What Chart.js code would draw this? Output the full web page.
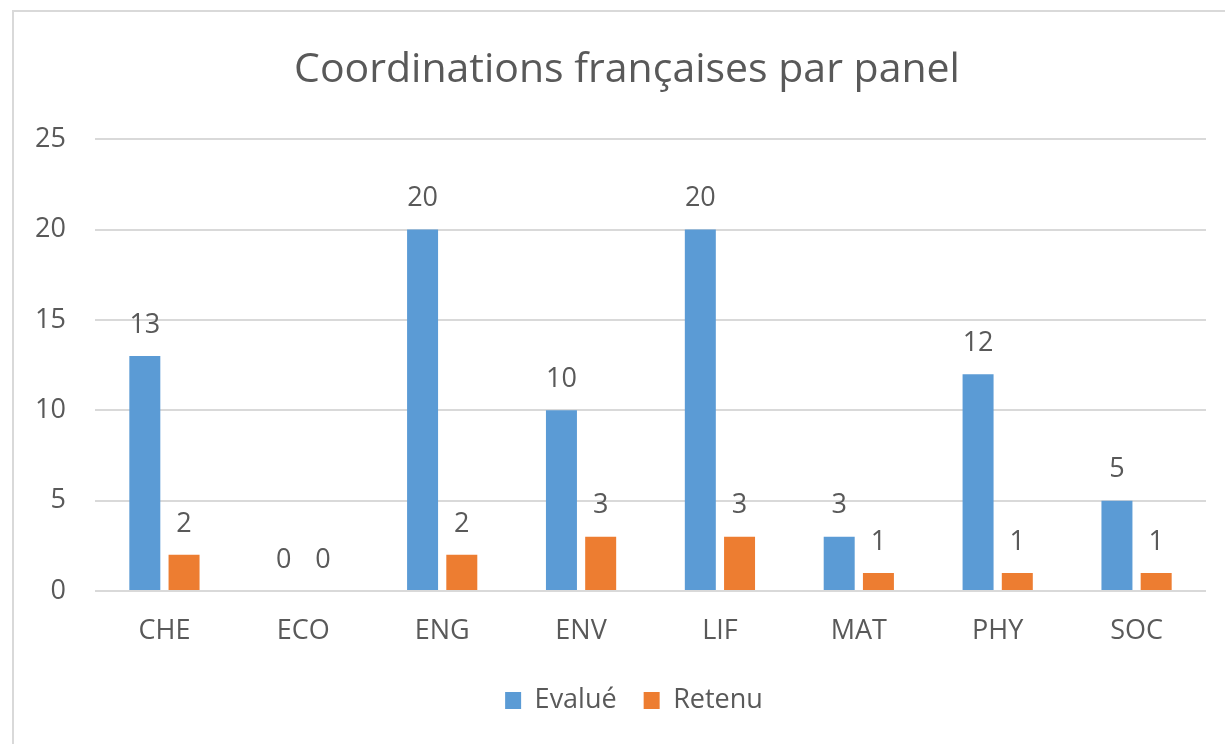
<!DOCTYPE html>
<html>
<head>
<meta charset="utf-8">
<script src="https://cdn.jsdelivr.net/npm/chart.js@4.4.1/dist/chart.umd.min.js"></script>
<style>
  html, body { margin: 0; padding: 0; background: #ffffff; }
  #wrap { position: relative; width: 1225px; height: 744px; }
  canvas { display: block; }
</style>
</head>
<body>
<div id="wrap"><canvas id="c" width="1225" height="744"></canvas></div>
<script>
const categories = ["CHE", "ECO", "ENG", "ENV", "LIF", "MAT", "PHY", "SOC"];
const evalue = [13, 0, 20, 10, 20, 3, 12, 5];
const retenu = [2, 0, 2, 3, 3, 1, 1, 1];
const seriesNames = ["Evalué", "Retenu"];
const titleText = "Coordinations françaises par panel";
const yTicks = [0, 5, 10, 15, 20, 25];

const FONT = "'Open Sans', 'Noto Sans', sans-serif";
const TEXT = "#595959";
const GRID = "#d9d9d9";

const framePlugin = {
  id: 'frame',
  afterLayout(chart) {
    // center title and legend over the plotting frame rather than full canvas
    if (chart.titleBlock) chart.titleBlock.left = 48;
    if (chart.legend) chart.legend.left = 62;
  },
  beforeDraw(chart) {
    const ctx = chart.ctx;
    ctx.save();
    ctx.fillStyle = "#ffffff";
    ctx.fillRect(0, 0, chart.width, chart.height);
    ctx.fillStyle = GRID;
    ctx.fillRect(12, 10, 2, chart.height - 10);
    ctx.fillRect(12, 10, chart.width - 12, 2);
    ctx.restore();
  }
};

const valueLabels = {
  id: 'valueLabels',
  afterDatasetsDraw(chart) {
    const ctx = chart.ctx;
    ctx.save();
    ctx.font = "27px " + FONT;
    ctx.fillStyle = TEXT;
    ctx.textAlign = "center";
    ctx.textBaseline = "middle";
    chart.data.datasets.forEach((ds, i) => {
      const meta = chart.getDatasetMeta(i);
      meta.data.forEach((bar, j) => {
        ctx.fillText(String(ds.data[j]), bar.x, bar.y - 31);
      });
    });
    ctx.restore();
  }
};

new Chart(document.getElementById('c'), {
  type: 'bar',
  data: {
    labels: categories,
    datasets: [
      { label: seriesNames[0], data: evalue, backgroundColor: "#5B9BD5", borderWidth: 0 },
      { label: seriesNames[1], data: retenu, backgroundColor: "#ED7D31", borderWidth: 0 }
    ]
  },
  options: {
    responsive: false,
    animation: false,
    devicePixelRatio: 1,
    layout: { padding: { left: 0, right: 19, top: 0, bottom: 20 } },
    datasets: { bar: { categoryPercentage: 0.565, barPercentage: 0.79 } },
    plugins: {
      title: {
        display: true,
        text: titleText,
        color: TEXT,
        font: { family: FONT, size: 41, weight: 'normal', lineHeight: 1.2 },
        padding: { top: 46, bottom: 44 }
      },
      legend: {
        display: true,
        position: 'bottom',
        labels: {
          color: TEXT,
          font: { family: FONT, size: 27 },
          boxWidth: 16,
          boxHeight: 17,
          padding: 27
        }
      },
      tooltip: { enabled: false }
    },
    scales: {
      x: {
        grid: { display: false, drawTicks: false },
        border: { display: false },
        ticks: { color: TEXT, font: { family: FONT, size: 27 }, padding: 24 },
        afterFit(s) { s.height = 69; }
      },
      y: {
        min: 0, max: 25,
        afterBuildTicks(s) { s.ticks = yTicks.map(v => ({ value: v })); },
        grid: { color: GRID, lineWidth: 2, drawTicks: false },
        border: { display: false },
        ticks: { color: TEXT, font: { family: FONT, size: 27 }, padding: 29 },
        afterFit(s) { s.width = 95; }
      }
    }
  },
  plugins: [framePlugin, valueLabels]
});
</script>
</body>
</html>
